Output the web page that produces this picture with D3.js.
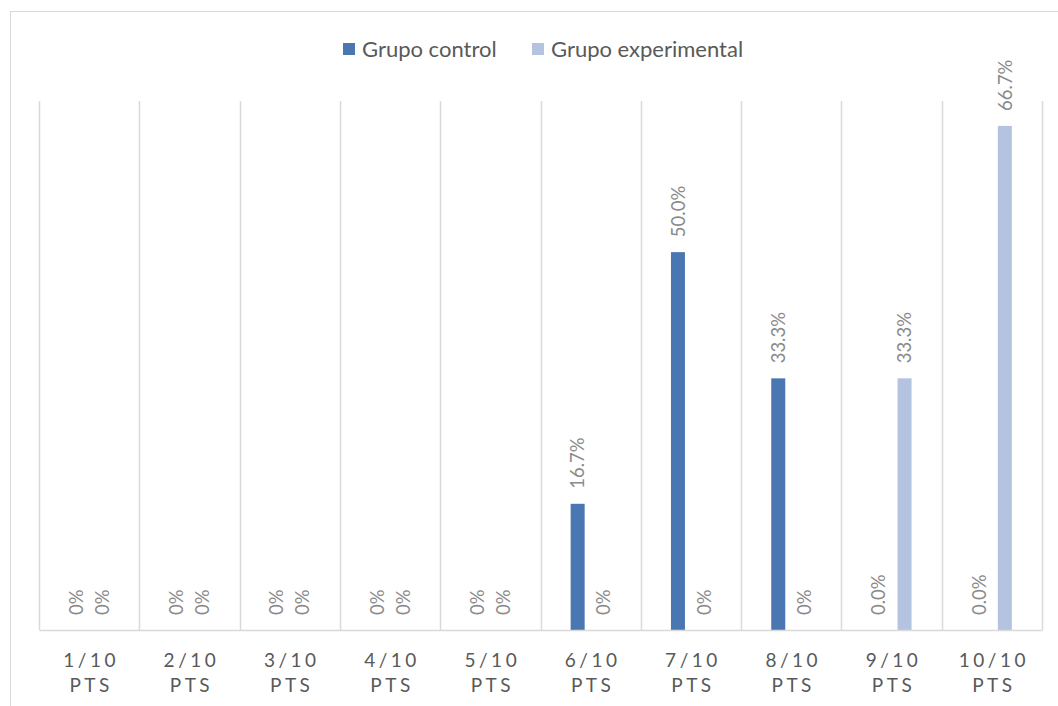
<!DOCTYPE html>
<html>
  <head>
    <script src="https://d3js.org/d3.v7.min.js"></script>
    <style>
      body { margin: 0; background: white; }
      svg text { font-family: Lato, "Liberation Sans", sans-serif; }
    </style>
  </head>
  <body>
    <script>
      // data
      const categories = ['1/10', '2/10', '3/10', '4/10', '5/10', '6/10', '7/10', '8/10', '9/10', '10/10'];
      const series = ['Grupo control', 'Grupo experimental'];
      const control = [0, 0, 0, 0, 0, 0.167, 0.5, 0.333, 0, 0];
      const experimental = [0, 0, 0, 0, 0, 0, 0, 0, 0.333, 0.667];
      const controlLabels = ['0%', '0%', '0%', '0%', '0%', '16.7%', '50.0%', '33.3%', '0.0%', '0.0%'];
      const experimentalLabels = ['0%', '0%', '0%', '0%', '0%', '0%', '0%', '0%', '33.3%', '66.7%'];
      const colors = ['#4a76b1', '#b4c3df'];

      const w = 1058, h = 706;
      const plotLeft = 39, plotRight = 1042, plotTop = 101, plotBottom = 630;

      const svg = d3.select('body').append('svg')
                    .attr('width', w)
                    .attr('height', h);

      // chart border
      svg.append('rect')
         .attr('x', 10.5).attr('y', 11.5)
         .attr('width', w).attr('height', h)
         .attr('fill', 'none')
         .attr('stroke', '#d9d9d9');

      const x0 = d3.scaleBand().domain(categories).range([plotLeft, plotRight]).padding(0);
      const bw = x0.bandwidth();
      const x1 = d3.scaleBand().domain(series)
                   .range([bw / 2 - 20, bw / 2 + 20])
                   .paddingInner(0.4615);
      const y = d3.scaleLinear().domain([0, 0.7]).range([plotBottom, plotTop]);

      // vertical gridlines between categories
      const edges = categories.map(c => x0(c)).concat([plotRight]);
      svg.append('g').selectAll('line')
         .data(edges).enter().append('line')
         .attr('x1', d => Math.round(d) + 0.5).attr('x2', d => Math.round(d) + 0.5)
         .attr('y1', plotTop).attr('y2', plotBottom)
         .attr('stroke', '#d9d9d9').attr('stroke-width', 1.5);

      const rows = categories.map((c, i) => ({
        cat: c,
        vals: [
          { s: series[0], v: control[i], label: controlLabels[i], color: colors[0] },
          { s: series[1], v: experimental[i], label: experimentalLabels[i], color: colors[1] }
        ]
      }));

      const groups = svg.append('g').selectAll('g')
                        .data(rows).enter().append('g')
                        .attr('transform', d => `translate(${x0(d.cat)},0)`);

      groups.selectAll('rect')
            .data(d => d.vals).enter().append('rect')
            .attr('x', d => x1(d.s))
            .attr('width', x1.bandwidth())
            .attr('y', d => y(d.v))
            .attr('height', d => plotBottom - y(d.v))
            .attr('fill', d => d.color);

      groups.selectAll('text')
            .data(d => d.vals).enter().append('text')
            .attr('transform', d => `translate(${x1(d.s) + x1.bandwidth() / 2},${y(d.v) - 15}) rotate(-90)`)
            .attr('dy', '0.36em')
            .attr('font-size', 18.5)
            .attr('fill', '#8a8a8a')
            .text(d => d.label);

      // baseline axis
      const xAxis = d3.axisBottom(x0).tickSize(0).tickFormat('');
      svg.append('g')
         .attr('transform', `translate(0,${plotBottom})`)
         .call(xAxis)
         .call(g => g.select('.domain').attr('stroke', '#d9d9d9').attr('stroke-width', 1.5));

      // category labels, two lines
      const catLabels = svg.append('g').selectAll('text')
                           .data(categories).enter().append('text')
                           .attr('text-anchor', 'middle')
                           .attr('font-size', 19)
                           .attr('fill', '#595959')
                           .attr('letter-spacing', 3.5);
      catLabels.append('tspan')
               .attr('x', d => x0(d) + bw / 2 + 2)
               .attr('y', 667)
               .text(d => d);
      catLabels.append('tspan')
               .attr('x', d => x0(d) + bw / 2 + 2)
               .attr('y', 692)
               .text('PTS');

      // legend
      const legendX = [343, 532];
      const legend = svg.append('g').selectAll('g')
                        .data(series).enter().append('g')
                        .attr('transform', (d, i) => `translate(${legendX[i]},43)`);
      legend.append('rect')
            .attr('width', 12).attr('height', 12)
            .attr('fill', (d, i) => colors[i]);
      legend.append('text')
            .attr('x', 19).attr('y', 13.5)
            .attr('font-size', 22)
            .attr('fill', '#595959')
            .text(d => d);
    </script>
  </body>
</html>
